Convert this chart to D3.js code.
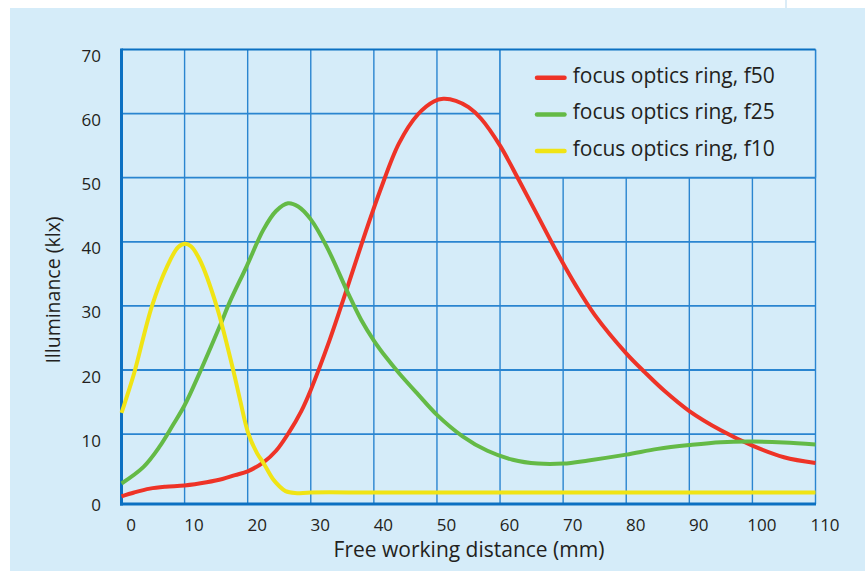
<!DOCTYPE html>
<html>
<head>
<meta charset="utf-8">
<script src="https://cdn.jsdelivr.net/npm/d3@7"></script>
<style>
  html, body { margin: 0; padding: 0; background: #ffffff; }
  svg { display: block; }
  text { font-family: "Open Sans", "Noto Sans", sans-serif; fill: #231f20; }
</style>
</head>
<body>
<svg id="chart" width="865" height="572"></svg>
<script>
// ---------- data ----------
const xTicks = [0, 10, 20, 30, 40, 50, 60, 70, 80, 90, 100, 110];
const yTicks = [0, 10, 20, 30, 40, 50, 60, 70];
const seriesNames = ["focus optics ring, f50", "focus optics ring, f25", "focus optics ring, f10"];
const seriesColors = ["#ee3327", "#64ba46", "#f0e415"];

const f50X = [0, 2, 4.5, 7, 10, 13.5, 16, 18, 20, 22.5, 24.5, 26.5, 28.5, 30, 33, 35.5, 38, 41, 44, 47, 49.5, 51, 53, 55, 57, 60, 63, 66, 69, 72, 75, 80, 83, 86, 90, 95, 100, 105, 110];
const f50Y = [0.3, 0.9, 1.5, 1.8, 2.0, 2.5, 3.0, 3.6, 4.2, 5.6, 7.4, 10.2, 13.6, 16.9, 24.7, 32, 39.5, 48, 55.4, 59.9, 61.9, 62.3, 62, 61, 59.2, 55.0, 49.6, 44.0, 38.4, 33.2, 28.6, 22.6, 19.6, 16.8, 13.6, 10.6, 8.2, 6.4, 5.5];

const f25X = [0, 3.5, 6, 8.2, 10, 12.4, 15.6, 17.2, 19.8, 22.5, 24.5, 26.4, 28, 30, 32.5, 36, 38, 40, 42, 44, 47, 50, 54, 58, 62, 66, 70, 74, 80, 85, 90, 95, 100, 105, 110];
const f25Y = [2.3, 4.9, 8.0, 11.5, 14.5, 19.6, 26.9, 30.7, 36.1, 41.9, 44.8, 46.0, 45.5, 43.5, 39.3, 31.8, 27.8, 24.6, 21.9, 19.5, 16.2, 13.0, 9.7, 7.4, 6.0, 5.4, 5.4, 5.9, 6.8, 7.7, 8.3, 8.75, 8.85, 8.7, 8.4];

const f10X = [0, 0.5, 2, 4.8, 7.2, 9, 10.1, 11, 12.4, 15.1, 17.7, 18.8, 20.1, 21.5, 22.5, 24, 25.1, 26, 27.5, 30, 40, 60, 80, 110];
const f10Y = [13.3, 14.8, 19.5, 29.9, 36.1, 39.2, 39.7, 39.3, 37.2, 29.9, 20, 15.3, 10.1, 7, 5.5, 3, 1.8, 1.1, 0.8, 0.9, 0.9, 0.9, 0.9, 0.9];

const seriesX = [f50X, f25X, f10X];
const seriesY = [f50Y, f25Y, f10Y];

// ---------- layout ----------
const svg = d3.select("#chart");
const bg = "#d5ecf9";
const gridColor = "#2a85d0";
const axisColor = "#0b70c2";

svg.append("rect").attr("x", 10).attr("y", 8).attr("width", 855).attr("height", 563).attr("fill", bg);
svg.append("line").attr("x1", 786).attr("x2", 786).attr("y1", 0).attr("y2", 8)
  .attr("stroke", "#cfe6f4").attr("stroke-width", 1.5);

const x = d3.scaleLinear().domain([0, 110]).range([121.5, 815.5]);
const y = d3.scaleLinear().domain([-0.9, 70]).range([504, 49.5]);

const g = svg.append("g");

// vertical grid
g.selectAll(".vg").data(xTicks.filter(d => d > 0)).enter().append("line")
  .attr("x1", d => x(d)).attr("x2", d => x(d))
  .attr("y1", y(70)).attr("y2", y(-0.9))
  .attr("stroke", gridColor).attr("stroke-width", 1.4);
// horizontal grid
g.selectAll(".hg").data(yTicks.filter(d => d > 0 && d < 70)).enter().append("line")
  .attr("x1", x(0)).attr("x2", x(110))
  .attr("y1", d => y(d)).attr("y2", d => y(d))
  .attr("stroke", gridColor).attr("stroke-width", 1.8);

// legend box covering grid
g.append("rect")
  .attr("x", x(60)).attr("y", y(70))
  .attr("width", x(110) - x(60)).attr("height", y(50) - y(70))
  .attr("fill", bg);
g.append("line").attr("x1", x(60)).attr("x2", x(60)).attr("y1", y(70)).attr("y2", y(50))
  .attr("stroke", gridColor).attr("stroke-width", 1.4);
g.append("line").attr("x1", x(60)).attr("x2", x(110)).attr("y1", y(50)).attr("y2", y(50))
  .attr("stroke", gridColor).attr("stroke-width", 1.8);
g.append("line").attr("x1", x(110)).attr("x2", x(110)).attr("y1", y(70)).attr("y2", y(50))
  .attr("stroke", gridColor).attr("stroke-width", 1.4);

// top border
g.append("line").attr("x1", x(0)).attr("x2", x(110)).attr("y1", y(70)).attr("y2", y(70))
  .attr("stroke", axisColor).attr("stroke-width", 2);

// axes (thick)
g.append("line").attr("x1", x(0)).attr("x2", x(0)).attr("y1", y(70) - 1).attr("y2", y(-0.9) + 1.5)
  .attr("stroke", axisColor).attr("stroke-width", 3);
g.append("line").attr("x1", x(0) - 1.5).attr("x2", x(110) + 0.5).attr("y1", y(-0.9)).attr("y2", y(-0.9))
  .attr("stroke", axisColor).attr("stroke-width", 3);

// curves
const line = d3.line().curve(d3.curveCatmullRom.alpha(0.5));
seriesX.forEach((xs, i) => {
  const pts = xs.map((v, j) => [x(v), y(seriesY[i][j])]);
  g.append("path").attr("d", line(pts))
    .attr("fill", "none").attr("stroke", seriesColors[i])
    .attr("stroke-width", 4).attr("stroke-linecap", "butt").attr("stroke-linejoin", "round");
});

// tick labels
g.selectAll(".xt").data(xTicks).enter().append("text")
  .attr("x", d => x(d) + 9.5).attr("y", 530.7)
  .attr("text-anchor", "middle").attr("font-size", 17).text(d => d);
g.selectAll(".yt").data(yTicks).enter().append("text")
  .attr("x", 101).attr("y", d => y(d) + 12.5)
  .attr("text-anchor", "end").attr("font-size", 17).text(d => d);

// axis titles
g.append("text").attr("x", 469).attr("y", 556.7).attr("text-anchor", "middle")
  .attr("font-size", 21).text("Free working distance (mm)");
g.append("text").attr("transform", "translate(60,290) rotate(-90)")
  .attr("text-anchor", "middle").attr("font-size", 19.5).text("Illuminance (klx)");

// legend
const rows = [77.7, 114.4, 151];
seriesNames.forEach((name, i) => {
  g.append("line").attr("x1", 537).attr("x2", 564.5).attr("y1", rows[i]).attr("y2", rows[i])
    .attr("stroke", seriesColors[i]).attr("stroke-width", 4.5).attr("stroke-linecap", "round");
  g.append("text").attr("x", 572.7).attr("y", rows[i] + 5)
    .attr("font-size", 21).text(name);
});
</script>
</body>
</html>
